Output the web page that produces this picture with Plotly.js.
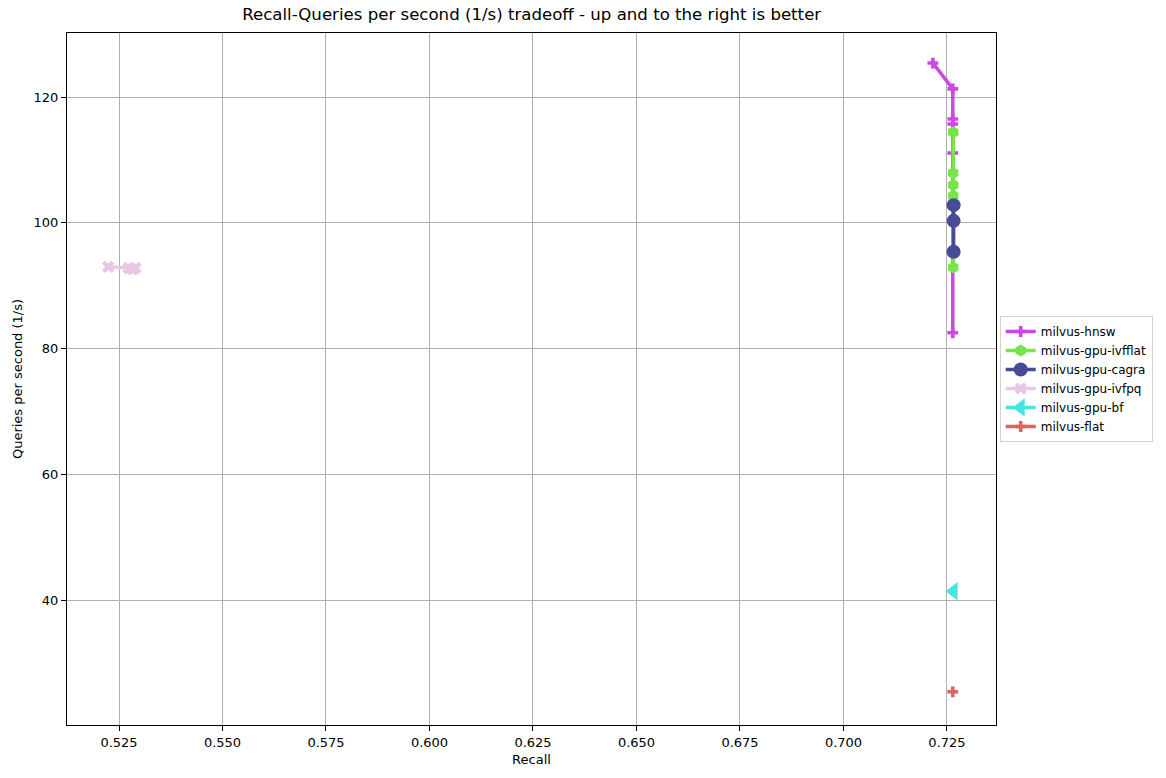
<!DOCTYPE html>
<html>
<head>
<meta charset="utf-8">
<script src="https://cdn.plot.ly/plotly-3.0.1.min.js"></script>
<style>body{margin:0;padding:0;background:#fff;}#chart{width:1166px;height:778px;}</style>
</head>
<body>
<div id="chart"></div>
<script>
const hnswX = [0.7216, 0.7264, 0.7264, 0.7264, 0.7264, 0.7264];
const hnswY = [125.4, 121.3, 116.5, 115.7, 111.1, 82.5];
const ivfflatX = [0.7265, 0.7265, 0.7265, 0.7265, 0.7265];
const ivfflatY = [114.4, 107.9, 106.0, 104.3, 92.9];
const cagraX = [0.7266, 0.7266, 0.7266];
const cagraY = [102.8, 100.3, 95.4];
const ivfpqX = [0.5224, 0.5273, 0.5283, 0.5290];
const ivfpqY = [93.0, 92.8, 92.6, 92.8];
const bfX = [0.7266];
const bfY = [41.4];
const flatX = [0.7264];
const flatY = [25.4];

const names = ["milvus-hnsw", "milvus-gpu-ivfflat", "milvus-gpu-cagra", "milvus-gpu-ivfpq", "milvus-gpu-bf", "milvus-flat"];
const xs = [hnswX, ivfflatX, cagraX, ivfpqX, bfX, flatX];
const ys = [hnswY, ivfflatY, cagraY, ivfpqY, bfY, flatY];
const colors = ["#cc48e4", "#78e44c", "#484a96", "#e6c8e4", "#48e4e4", "#e46262"];
const symbols = ["cross", "hexagon", "circle", "x", "triangle-left", "cross"];
const sizes = [9, 12, 14, 11, 16, 9];

const traces = names.map((n, i) => ({
  x: xs[i], y: ys[i], name: n, type: "scatter", mode: "lines+markers",
  line: {color: colors[i], width: 3.5},
  marker: {color: colors[i], symbol: symbols[i], size: sizes[i], line: {width: 0}}
}));

const layout = {
  width: 1166, height: 778,
  margin: {l: 67, r: 170, t: 33, b: 53},
  paper_bgcolor: "#fff", plot_bgcolor: "#fff",
  font: {family: "DejaVu Sans", size: 13, color: "#000"},
  title: {text: "Recall-Queries per second (1/s) tradeoff - up and to the right is better", font: {size: 16.6}, x: 0.456, xanchor: "center", y: 0.982, yanchor: "middle"},
  xaxis: {
    title: {text: "Recall", font: {size: 13}, standoff: 6},
    range: [0.51244, 0.73684], tick0: 0.5, dtick: 0.025, tickformat: ".3f",
    showgrid: true, gridcolor: "#b0b0b0", gridwidth: 1,
    showline: true, linecolor: "#000", linewidth: 1, mirror: true,
    ticks: "outside", ticklen: 5, tickcolor: "#000", zeroline: false
  },
  yaxis: {
    title: {text: "Queries per second (1/s)", font: {size: 13}, standoff: 8},
    range: [20.12, 130.18], tick0: 0, dtick: 20,
    showgrid: true, gridcolor: "#b0b0b0", gridwidth: 1,
    showline: true, linecolor: "#000", linewidth: 1, mirror: true,
    ticks: "outside", ticklen: 5, tickcolor: "#000", zeroline: false
  },
  legend: {x: 1.004, xanchor: "left", y: 0.5, yanchor: "middle", bordercolor: "#d0d0d0", borderwidth: 1, font: {size: 12}, tracegroupgap: 0, itemwidth: 30},
  showlegend: true
};

Plotly.newPlot("chart", traces, layout, {displayModeBar: false});
</script>
</body>
</html>
